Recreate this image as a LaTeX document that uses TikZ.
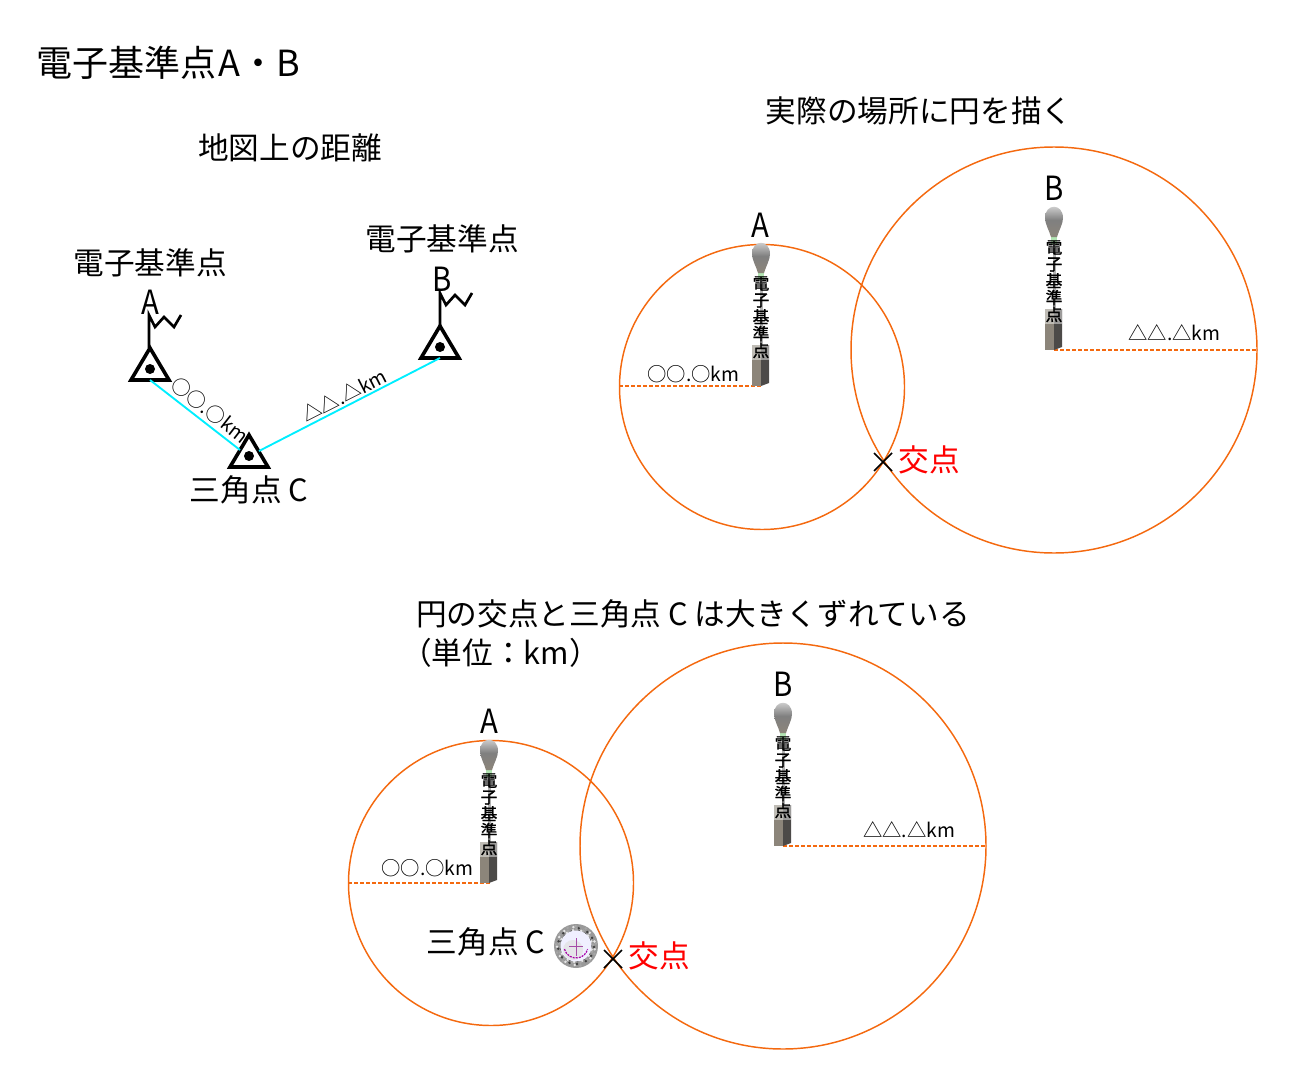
\documentclass[tikz,border=0pt]{standalone}
\usepackage{fontspec}
\setmainfont{Noto Sans CJK JP}
\newfontfamily\towerfont[FakeBold=1.5]{Noto Sans CJK JP}
\newcommand{\szA}{\fontsize{27}{32}\selectfont}
\newcommand{\szB}{\fontsize{23}{29}\selectfont}
\newcommand{\szL}{\fontsize{25}{29}\selectfont}
\newcommand{\szC}{\fontsize{14.5}{17}\selectfont}
\definecolor{ringorange}{HTML}{F4690F}
\definecolor{sightcyan}{HTML}{00EEFF}
\definecolor{markred}{HTML}{FF0000}
\definecolor{boxlight}{HTML}{8C857A}
\definecolor{boxdark}{HTML}{4C4A48}
\tikzset{
  big/.style={font=\szA,inner sep=0pt,text=black},
  mid/.style={font=\szB,inner sep=0pt,text=black},
  letter/.style={font=\szL,inner sep=0pt,text=black,xscale=0.88},
  small/.style={font=\szC,inner sep=0pt,text=black},
  ring/.style={draw=ringorange,line width=1.1pt},
  radius line/.style={draw=ringorange,line width=0.9pt,dash pattern=on 3pt off 1.5pt},
  sight/.style={draw=sightcyan,line width=1.4pt},
  mapmark/.style={draw=black,line width=2.7pt,line join=miter},
  crossmark/.style={draw=black,line width=1.1pt}
}
\newcommand{\trisym}[3]{%
  \begin{scope}[shift={(#1,#2)}]
    \draw[mapmark] (0,-32) -- (-19,0) -- (19,0) -- cycle;
    \fill[black] (0,-11) circle[radius=5];
    \coordinate (#3) at (0,0);
  \end{scope}}
\newcommand{\flagsym}[2]{%
  \begin{scope}[shift={(#1,#2)}]
    \draw[black,line width=2pt,line join=miter] (0,-32) -- (0,-65) -- (6,-53) -- (15,-63) -- (25,-53) -- (32,-65);
  \end{scope}}
\newcommand{\towersym}[3]{%
  \begin{scope}[shift={(#1,#2)}]
    \fill[black!30] (-1.5,-108) rectangle (1.5,-41);
    \fill[boxlight] (-9,-41) -- (0,-41) -- (0,0) -- (-9,0) -- cycle;
    \fill[boxdark] (0,-41) -- (8,-41) -- (8,-3) -- (0,0) -- cycle;
    \fill[white,opacity=0.45] (-9,-41) rectangle (8,-26);
    \fill[black!35!green!30!white] (-3,-114) rectangle (3,-106);
    \shade[top color=black!12,bottom color=boxlight,middle color=black!50]
      (-3,-113) .. controls (-5,-120) and (-9,-126) .. (-9,-132)
      .. controls (-9,-147) and (9,-147) .. (9,-132)
      .. controls (9,-126) and (5,-120) .. (3,-113) -- cycle;
    \node[inner sep=0pt,align=center,anchor=north,font=\towerfont\fontsize{12.5}{12.6}\selectfont] (#3) at (0,-110) {電\\子\\基\\準\\点};
  \end{scope}}
\newcommand{\discsym}[3]{%
  \begin{scope}[shift={(#1,#2)}]
    \fill[black!40] (0,0) circle[radius=22];
    \foreach \i in {0,...,69}{
      \pgfmathsetmacro{\ang}{\i*37}
      \pgfmathsetmacro{\rad}{15+mod(\i*7,6)}
      \pgfmathsetmacro{\shade}{int(mod(\i*13,3)==0 ? 75 : (mod(\i,3)==1 ? 10 : 35))}
      \fill[black!\shade!white] (\ang:\rad) circle[radius=1.4];
    }
    \fill[blue!6!white] (0,0) circle[radius=15.5];
    \fill[blue!15!black!10!white] (-3,4) circle[radius=10];
    \draw[violet!70!magenta,line width=0.9pt,dash pattern=on 1.5pt off 0.8pt] (165:12) arc[start angle=165,end angle=15,radius=12];
    \draw[violet!70,line width=0.7pt] (-7,0) -- (7,0) (0,-8) -- (0,10);
    \coordinate (#3) at (0,0);
  \end{scope}}
\begin{document}
\begin{tikzpicture}[x=0.75pt,y=-0.75pt]
\useasboundingbox (0,0) rectangle (1308,1091);
\node[big,anchor=west] (title) at (36,63) {電子基準点\kern1.5pt A・B};
\node[mid] (maptitle) at (290,148) {地図上の距離};
\node[mid] (realtitle) at (919,111) {実際の場所に円を描く};
\node[mid,anchor=west] (gaptitle) at (416,614) {円の交点と三角点 C は大きくずれている};
\node[mid,anchor=west] (unit) at (401,653) {（単位：km）};
\trisym{150}{380}{ma}
\flagsym{149}{380}
\trisym{440}{358}{mb}
\flagsym{440}{358}
\trisym{249}{467}{mc}
\coordinate (mcl) at (240,450);
\coordinate (mcr) at (259,451);
\draw[sight] (ma) -- (mcl);
\draw[sight] (mb) -- (mcr);
\node[mid] (ea) at (150,263) {電子基準点};
\node[mid] (eb) at (442,239) {電子基準点};
\node[letter] (la) at (150,302) {A};
\node[letter] (lb) at (442,279) {B};
\node[mid] (lc) at (249,490) {三角点 C};
\node[small,rotate=-38] (da) at (210,410) {○○.○km};
\node[small,rotate=27] (db) at (344,395) {△△.△km};
\draw[ring] (762,387) circle[radius=142.5];
\draw[ring] (1054,350) circle[radius=203];
\coordinate (ua) at (762,386);
\coordinate (uae) at (619,386);
\coordinate (ub) at (1054,350);
\coordinate (ube) at (1256,350);
\draw[radius line] (uae) -- (ua);
\draw[radius line] (ub) -- (ube);
\towersym{761}{386}{ut1}
\towersym{1054}{350}{ut2}
\node[letter] (ula) at (760,225) {A};
\node[letter] (ulb) at (1054,188) {B};
\node[small] (uda) at (693.5,374) {○○.○km};
\node[small] (udb) at (1174.5,333) {△△.△km};
\draw[crossmark] (874,453) -- (892,471) (874,471) -- (892,453);
\node[mid,text=markred] (ux) at (929.5,460) {交点};
\draw[ring] (491,883) circle[radius=142.5];
\draw[ring] (783,846) circle[radius=203];
\coordinate (la0) at (491,883);
\coordinate (lae) at (348,883);
\coordinate (lb0) at (783,846);
\coordinate (lbe) at (986,846);
\draw[radius line] (lae) -- (la0);
\draw[radius line] (lb0) -- (lbe);
\towersym{489}{883}{lt1}
\towersym{783}{846}{lt2}
\node[letter] (lla) at (489,721) {A};
\node[letter] (llb) at (783,684) {B};
\node[small] (lda) at (427.5,868) {○○.○km};
\node[small] (ldb) at (909,830) {△△.△km};
\node[mid] (lcc) at (486,942) {三角点 C};
\discsym{576}{946}{disc}
\draw[crossmark] (604,950) -- (622,968) (604,968) -- (622,950);
\node[mid,text=markred] (lx) at (659,956) {交点};
\end{tikzpicture}
\end{document}
